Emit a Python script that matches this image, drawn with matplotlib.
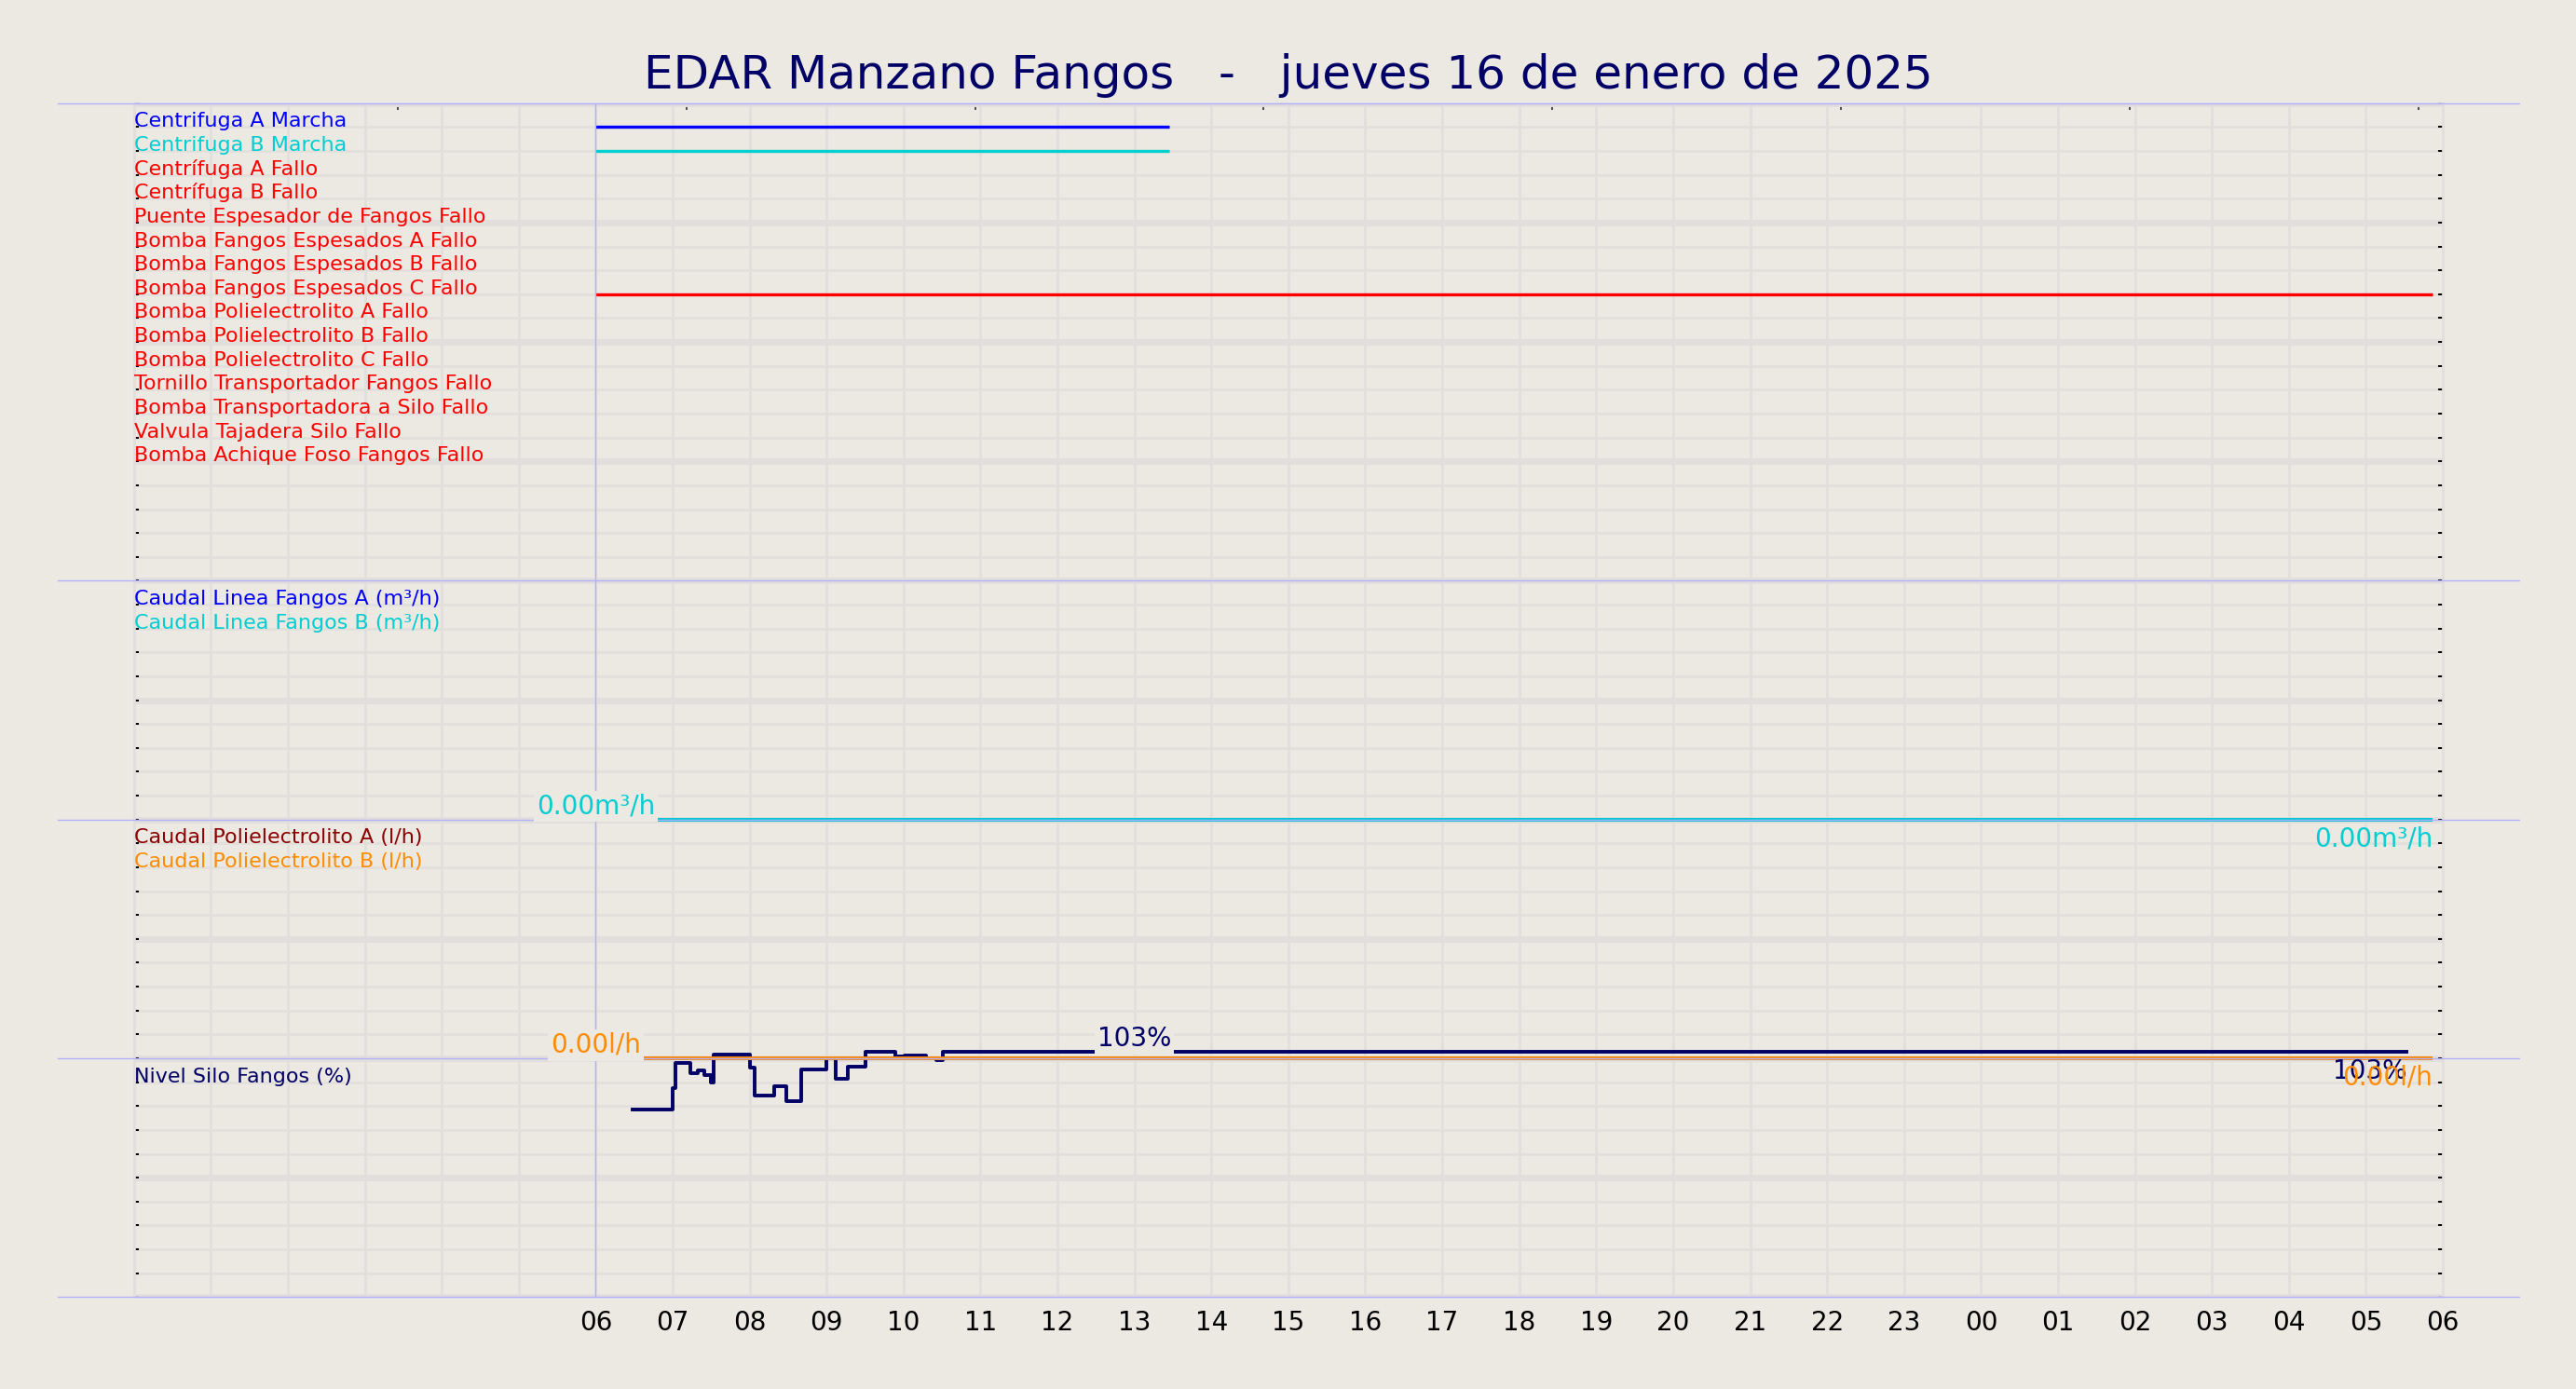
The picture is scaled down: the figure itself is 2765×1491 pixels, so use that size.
import matplotlib
matplotlib.use('Agg')
import matplotlib.pyplot as plt

# ---------------- data ----------------
title = "EDAR Manzano Fangos   -   jueves 16 de enero de 2025"

# hours since 00:00 of the 16th; x axis covers 00:00 -> 06:00 next day
hour_ticks = list(range(6, 31))
hour_labels = [f"{h % 24:02d}" for h in hour_ticks]

digital_labels = [
    "Centrifuga A Marcha", "Centrifuga B Marcha", "Centrífuga A Fallo",
    "Centrífuga B Fallo", "Puente Espesador de Fangos Fallo",
    "Bomba Fangos Espesados A Fallo", "Bomba Fangos Espesados B Fallo",
    "Bomba Fangos Espesados C Fallo", "Bomba Polielectrolito A Fallo",
    "Bomba Polielectrolito B Fallo", "Bomba Polielectrolito C Fallo",
    "Tornillo Transportador Fangos Fallo", "Bomba Transportadora a Silo Fallo",
    "Valvula Tajadera Silo Fallo", "Bomba Achique Foso Fangos Fallo",
]
digital_colors = ["#0000ff", "#00ced1"] + ["#ff0000"] * 13
# active periods (start hour, end hour) per digital signal index
digital_on_index = [0, 1, 7]
digital_on_start = [6.0, 6.0, 6.0]
digital_on_end = [13.45, 13.45, 29.87]

caudal_labels = ["Caudal Linea Fangos A (m³/h)", "Caudal Linea Fangos B (m³/h)"]
caudal_colors = ["#0000ff", "#00ced1"]
caudal_t = [6.0, 29.87]
caudal_a = [0.0, 0.0]
caudal_b = [0.0, 0.0]
caudal_max = 10.0

poli_labels = ["Caudal Polielectrolito A (l/h)", "Caudal Polielectrolito B (l/h)"]
poli_colors = ["#8b0000", "#ff8c00"]
poli_t = [6.0, 29.87]
poli_a = [0.0, 0.0]
poli_b = [0.0, 0.0]
poli_max = 10.0

nivel_label = "Nivel Silo Fangos (%)"
nivel_color = "#000066"
nivel_t = [6.48, 7.00, 7.04, 7.23, 7.33, 7.41, 7.50, 7.53, 8.00, 8.06, 8.32,
           8.48, 8.67, 9.00, 9.12, 9.27, 9.50, 9.89, 10.01, 10.29, 10.43,
           10.51, 29.53]
nivel_v = [78.4, 87.4, 97.9, 93.9, 94.9, 93.1, 90.0, 101.4, 96.1, 84.3, 88.3,
           82.1, 95.2, 100.1, 91.5, 96.6, 102.7, 100.8, 101.2, 100.1, 99.2,
           102.7, 102.7]
nivel_max = 100.0
nivel_label_t = 13.0

# ---------------- style ----------------
BG = "#ece8e2"
GRID = "#e2dedb"
SEP = "#b0b0ff"
NAVY = "#000066"

fig = plt.figure(figsize=(13.825, 7.455), dpi=200, facecolor=BG)
ax = fig.add_axes([0.05197, 0.0662, 0.89633, 0.85949])
ax.set_facecolor(BG)
ax.set_xlim(0, 30)
ax.set_ylim(0, 50)

ax.set_xticks(range(0, 31))
ax.set_xticklabels([""] * 6 + hour_labels)
ax.set_yticks(range(0, 51, 5))
ax.set_yticks(range(0, 51), minor=True)
ax.set_yticklabels([])
ax.tick_params(axis="x", length=0, pad=5, labelsize=10, colors="black")
ax.tick_params(axis="y", which="both", direction="in", left=True, right=True,
               length=1.8, width=0.7, color="black")
ax.grid(True, axis="x", color=GRID, lw=1.0)
ax.grid(True, axis="y", which="major", color=GRID, lw=2.5)
ax.grid(True, axis="y", which="minor", color=GRID, lw=0.9)
ax.set_axisbelow(True)
for s in ax.spines.values():
    s.set_color(GRID)
    s.set_linewidth(1.0)

# top ticks
top = ax.secondary_xaxis("top")
top.set_xticks([3.43 + 3.75 * k for k in range(8)])
top.set_xticklabels([])
top.tick_params(direction="in", length=2.5, width=0.6, color="#333333")
for s in top.spines.values():
    s.set_visible(False)

LW = 1.2
LFS = 8.0
bbox = dict(boxstyle="square,pad=0.1", fc=BG, ec="none")


def end_label(x, y, s, col, z=6):
    ax.annotate(s, (x, y), xytext=(0, -2.5), textcoords="offset points",
                color=col, fontsize=10, ha="right", va="top", zorder=z)


# ---- panel 1: digital signals (rows 49 .. 35)
for i, (lab, col) in enumerate(zip(digital_labels, digital_colors)):
    ax.text(0.0, 49 - i, lab, color=col, fontsize=LFS, ha="left", va="baseline",
            zorder=6)
for idx, t0, t1 in zip(digital_on_index, digital_on_start, digital_on_end):
    ax.plot([t0, t1], [49 - idx, 49 - idx], color=digital_colors[idx], lw=LW,
            zorder=2, solid_capstyle="butt")

# ---- panel 2: caudal (rows 20..30)
for i, (lab, col) in enumerate(zip(caudal_labels, caudal_colors)):
    ax.text(0.0, 29 - i, lab, color=col, fontsize=LFS, ha="left", va="baseline", zorder=6)
for vals, col in zip([caudal_a, caudal_b], caudal_colors):
    ax.plot(caudal_t, [20 + 10 * v / caudal_max for v in vals], color=col, lw=1.4,
            zorder=2, solid_capstyle="butt")
ax.text(caudal_t[0], 20 + 10 * caudal_b[0] / caudal_max, f"{caudal_b[0]:.2f}m³/h",
        color=caudal_colors[1], fontsize=10, ha="center", va="bottom", bbox=bbox, zorder=6)
end_label(caudal_t[-1], 20 + 10 * caudal_b[-1] / caudal_max,
          f"{caudal_b[-1]:.2f}m³/h", caudal_colors[1])

# ---- panel 4: nivel (rows 0..10) drawn before orange so orange lies on top
ax.text(0.0, 9, nivel_label, color=nivel_color, fontsize=LFS, ha="left", va="baseline", zorder=6)
ax.step(nivel_t, [10 * v / nivel_max for v in nivel_v], where="post",
        color=nivel_color, lw=1.4, zorder=2)
vmax = max(nivel_v)
ax.text(nivel_label_t, 10 * vmax / nivel_max, f"{vmax:.0f}%", color=nivel_color,
        fontsize=10, ha="center", va="bottom", bbox=bbox, zorder=6)
end_label(nivel_t[-1], 10 * nivel_v[-1] / nivel_max, f"{nivel_v[-1]:.0f}%", nivel_color)

# ---- panel 3: polielectrolito (rows 10..20)
for i, (lab, col) in enumerate(zip(poli_labels, poli_colors)):
    ax.text(0.0, 19 - i, lab, color=col, fontsize=LFS, ha="left", va="baseline", zorder=6)
for vals, col in zip([poli_a, poli_b], poli_colors):
    ax.plot(poli_t, [10 + 10 * v / poli_max for v in vals], color=col, lw=1.4,
            zorder=2.5, solid_capstyle="butt")
ax.text(poli_t[0], 10 + 10 * poli_b[0] / poli_max, f"{poli_b[0]:.2f}l/h",
        color=poli_colors[1], fontsize=10, ha="center", va="bottom", bbox=bbox, zorder=6)
end_label(poli_t[-1], 10 + 10 * poli_b[-1] / poli_max, f"{poli_b[-1]:.2f}l/h",
          poli_colors[1], z=6.5)

# separators
trans = ax.get_yaxis_transform()
for y in [0, 10, 20, 30, 50]:
    ax.plot([-0.033, 1.033], [y, y], transform=trans, color=SEP, lw=0.5,
            clip_on=False, zorder=3)
ax.axvline(6, color=SEP, lw=0.5, zorder=3)

fig.text(0.5, 0.9457, title, ha="center", va="center", fontsize=18, color=NAVY)

fig.savefig("out.png", dpi=200, facecolor=BG)
